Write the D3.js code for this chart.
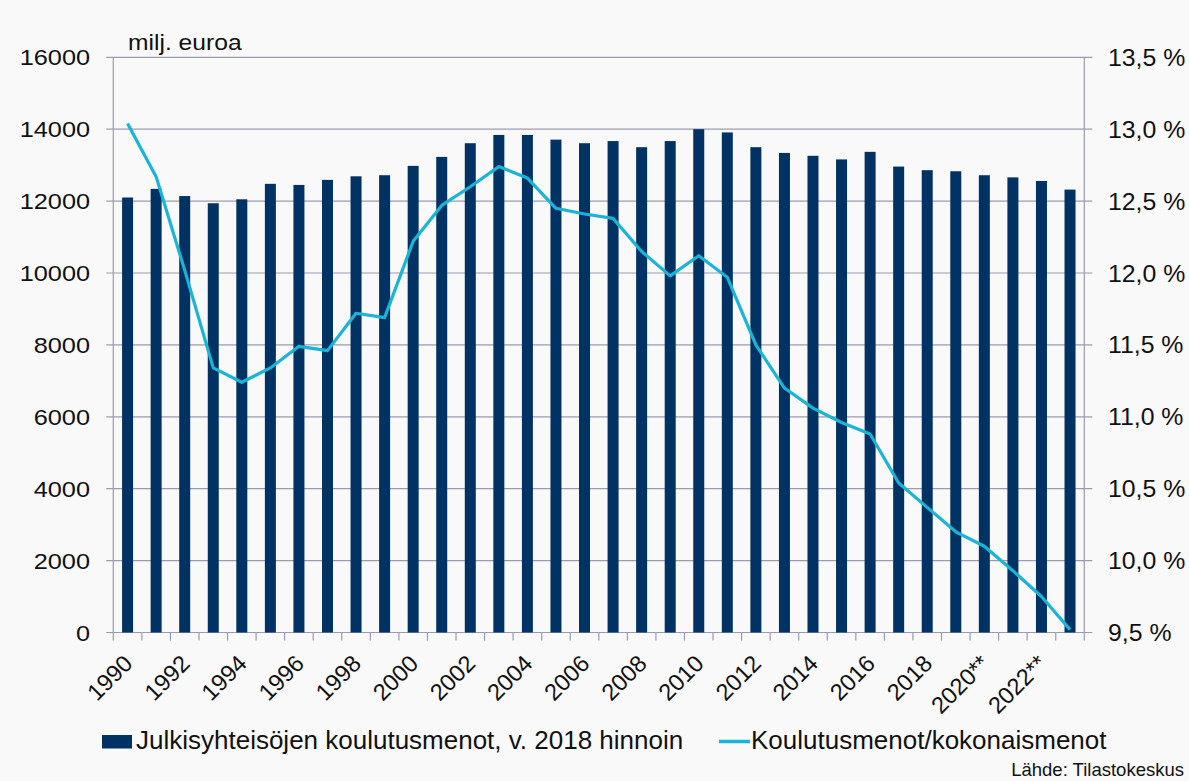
<!DOCTYPE html>
<html>
<head>
<meta charset="utf-8">
<script src="https://cdn.jsdelivr.net/npm/d3@7"></script>
<style>
  html, body { margin: 0; padding: 0; background: #f9f9f9; }
  svg { display: block; font-family: "Liberation Sans", Arial, sans-serif; }
</style>
</head>
<body>
<svg id="chart" width="1189" height="781"></svg>
<script>
const years = [1990,1991,1992,1993,1994,1995,1996,1997,1998,1999,2000,2001,2002,2003,2004,2005,2006,2007,2008,2009,2010,2011,2012,2013,2014,2015,2016,2017,2018,2019,2020,2021,2022,2023];
const yearLabels = ["1990","","1992","","1994","","1996","","1998","","2000","","2002","","2004","","2006","","2008","","2010","","2012","","2014","","2016","","2018","","2020**","","2022**",""];
const spending = [12100,12340,12140,11940,12050,12480,12450,12590,12690,12720,12980,13230,13610,13840,13840,13710,13610,13670,13500,13670,14000,13910,13500,13340,13260,13160,13370,12960,12860,12830,12720,12660,12560,12320];
const share = [13.04,12.67,12.02,11.34,11.24,11.34,11.49,11.46,11.72,11.69,12.22,12.47,12.60,12.74,12.66,12.45,12.41,12.38,12.15,11.98,12.12,11.97,11.50,11.20,11.06,10.96,10.88,10.54,10.37,10.20,10.10,9.93,9.75,9.52];
const leftTicks = [0,2000,4000,6000,8000,10000,12000,14000,16000];
const rightTicks = [9.5,10.0,10.5,11.0,11.5,12.0,12.5,13.0,13.5];
const unitLabel = "milj. euroa";
const legendBar = "Julkisyhteisöjen koulutusmenot, v. 2018 hinnoin";
const legendLine = "Koulutusmenot/kokonaismenot";
const sourceText = "Lähde: Tilastokeskus";

const svg = d3.select("#chart");
const X0 = 113.3, X1 = 1084.3, Y0 = 57.3, Y1 = 632.5;
const barColor = "#003263", lineColor = "#19b4d7", gridColor = "#9a9bb0", textColor = "#111";

svg.append("rect").attr("width", 1189).attr("height", 781).attr("fill", "#f9f9f9");

const x = d3.scaleBand().domain(years).range([X0, X1]).padding(0);
const bw = x.bandwidth();
const barW = bw * 0.385;
const yL = d3.scaleLinear().domain([0, 16000]).range([Y1, Y0]);
const yR = d3.scaleLinear().domain([9.5, 13.5]).range([Y1, Y0]);

// gridlines
svg.append("g").selectAll("line").data(leftTicks).join("line")
  .attr("x1", X0 - 7).attr("x2", X1 + 8)
  .attr("y1", d => yL(d)).attr("y2", d => yL(d))
  .attr("stroke", gridColor).attr("stroke-width", 1.2);

// vertical axis lines
svg.append("line").attr("x1", X0).attr("x2", X0).attr("y1", Y0).attr("y2", Y1)
  .attr("stroke", gridColor).attr("stroke-width", 1.2);
svg.append("line").attr("x1", X1).attr("x2", X1).attr("y1", Y0).attr("y2", Y1)
  .attr("stroke", gridColor).attr("stroke-width", 1.2);

// bottom tick marks at band boundaries
const bounds = years.map(d => x(d)).concat([X1]);
svg.append("g").selectAll("line").data(bounds).join("line")
  .attr("x1", d => d).attr("x2", d => d).attr("y1", Y1).attr("y2", Y1 + 8)
  .attr("stroke", gridColor).attr("stroke-width", 1.2);

// bars
svg.append("g").selectAll("rect").data(years).join("rect")
  .attr("x", d => x(d) + (bw - barW) / 2)
  .attr("width", barW)
  .attr("y", (d, i) => yL(spending[i]))
  .attr("height", (d, i) => Y1 - yL(spending[i]))
  .attr("fill", barColor);

// line
const line = d3.line().x((d, i) => x(years[i]) + bw / 2).y(d => yR(d));
svg.append("path").datum(share).attr("d", line)
  .attr("fill", "none").attr("stroke", lineColor).attr("stroke-width", 3.2)
  .attr("stroke-linejoin", "round");

// text helper
function txt(g, s, px, py, size, sx, anchor) {
  return g.append("text").text(s)
    .attr("transform", `translate(${px},${py}) scale(${sx},1)`)
    .attr("font-size", size).attr("text-anchor", anchor).attr("fill", textColor);
}

// left tick labels
const gL = svg.append("g");
leftTicks.forEach(t => txt(gL, t, 90, yL(t) + 8, 22, 1.15, "end"));

// right tick labels
const fmt = v => v.toFixed(1).replace(".", ",") + " %";
const gR = svg.append("g");
rightTicks.forEach(t => txt(gR, fmt(t), 1108, yR(t) + 8.5, 23, 1.08, "start"));

// x labels
svg.append("g").selectAll("text").data(years).join("text")
  .text((d, i) => yearLabels[i])
  .attr("transform", d => `translate(${x(d) + bw / 2 + 6.5},665) rotate(-45)`)
  .attr("font-size", 23.5).attr("text-anchor", "end").attr("fill", textColor);

// unit label
txt(svg, unitLabel, 128, 50, 22, 1.12, "start");

// legend
svg.append("rect").attr("x", 102).attr("y", 735).attr("width", 30).attr("height", 13.5).attr("fill", barColor);
txt(svg, legendBar, 136, 749, 25, 1.04, "start");
svg.append("line").attr("x1", 719).attr("x2", 750).attr("y1", 741.5).attr("y2", 741.5)
  .attr("stroke", lineColor).attr("stroke-width", 3.5);
txt(svg, legendLine, 751, 749, 25, 1.04, "start");

// source
txt(svg, sourceText, 1184, 776, 18.5, 1, "end");
</script>
</body>
</html>
